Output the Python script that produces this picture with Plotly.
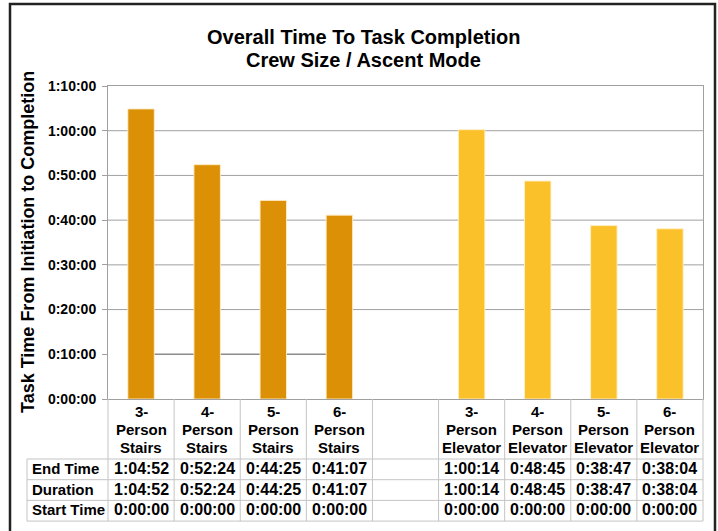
import plotly.graph_objects as go

# ---------------- data ----------------
stairs_categories = ["3-Person Stairs", "4-Person Stairs", "5-Person Stairs", "6-Person Stairs"]
gap_category = " "
elevator_categories = ["3-Person Elevator", "4-Person Elevator", "5-Person Elevator", "6-Person Elevator"]
category_labels = {
    "3-Person Stairs": ["3-", "Person", "Stairs"],
    "4-Person Stairs": ["4-", "Person", "Stairs"],
    "5-Person Stairs": ["5-", "Person", "Stairs"],
    "6-Person Stairs": ["6-", "Person", "Stairs"],
    "3-Person Elevator": ["3-", "Person", "Elevator"],
    "4-Person Elevator": ["4-", "Person", "Elevator"],
    "5-Person Elevator": ["5-", "Person", "Elevator"],
    "6-Person Elevator": ["6-", "Person", "Elevator"],
}
end_time_stairs = ["1:04:52", "0:52:24", "0:44:25", "0:41:07"]
duration_stairs = ["1:04:52", "0:52:24", "0:44:25", "0:41:07"]
start_time_stairs = ["0:00:00", "0:00:00", "0:00:00", "0:00:00"]
end_time_elevator = ["1:00:14", "0:48:45", "0:38:47", "0:38:04"]
duration_elevator = ["1:00:14", "0:48:45", "0:38:47", "0:38:04"]
start_time_elevator = ["0:00:00", "0:00:00", "0:00:00", "0:00:00"]
row_labels = ["End Time", "Duration", "Start Time"]
y_tick_seconds = [0, 600, 1200, 1800, 2400, 3000, 3600, 4200]
y_tick_labels = ["0:00:00", "0:10:00", "0:20:00", "0:30:00", "0:40:00", "0:50:00", "1:00:00", "1:10:00"]
title_lines = ["Overall Time To Task Completion", "Crew Size / Ascent Mode"]
y_title = "Task Time From Initiation to Completion"


def to_seconds(t):
    h, m, s = (int(p) for p in t.split(":"))
    return h * 3600 + m * 60 + s


all_categories = stairs_categories + [gap_category] + elevator_categories

# ---------------- style / geometry ----------------
W, H = 718, 531
ML, MR, MT, MB = 108, 15, 86, 132
PW, PH = W - ML - MR, H - MT - MB
FONT = "Liberation Sans, Arial, sans-serif"
STAIRS_COLOR = "#DB9006"
ELEV_COLOR = "#FBC12B"
GRID = "#A0A0A0"
TABLE_LINE = "#C4C4C4"


def py(px):  # pixel y (from top) -> paper y
    return (H - MB - px) / PH


def pxx(px):  # pixel x -> paper x
    return (px - ML) / PW


fig = go.Figure()
fig.add_trace(go.Bar(
    x=stairs_categories, y=[to_seconds(t) for t in duration_stairs],
    marker=dict(color=STAIRS_COLOR, line=dict(color="rgba(255,236,200,0.9)", width=1)),
    width=0.4, name="Duration"))
fig.add_trace(go.Bar(
    x=elevator_categories, y=[to_seconds(t) for t in duration_elevator],
    marker=dict(color=ELEV_COLOR, line=dict(color="rgba(255,240,200,0.9)", width=1)),
    width=0.4, name="Duration"))

shapes = []
# gridlines (the 0:10:00 line only spans the stairs bars in the reference)
for v in y_tick_seconds[2:-1]:
    shapes.append(dict(type="line", xref="paper", yref="y", x0=0, x1=1, y0=v, y1=v,
                       line=dict(color=GRID, width=1), layer="below"))
shapes.append(dict(type="line", xref="x", yref="y", x0=0, x1=3,
                   y0=y_tick_seconds[1], y1=y_tick_seconds[1],
                   line=dict(color="#8C8C8C", width=1.5), layer="below"))

# data table
header_bottom = 459
row_h = 20.7
table_bottom = header_bottom + row_h * len(row_labels)
n = len(all_categories)
for k in range(n + 1):
    shapes.append(dict(type="line", xref="paper", yref="paper", x0=k / n, x1=k / n,
                       y0=0, y1=py(table_bottom), line=dict(color=TABLE_LINE, width=1)))
shapes.append(dict(type="line", xref="paper", yref="paper", x0=pxx(27), x1=pxx(27),
                   y0=py(header_bottom), y1=py(table_bottom), line=dict(color=TABLE_LINE, width=1)))
for r in range(len(row_labels) + 1):
    yy = py(header_bottom + r * row_h)
    shapes.append(dict(type="line", xref="paper", yref="paper", x0=pxx(27), x1=1,
                       y0=yy, y1=yy, line=dict(color=TABLE_LINE, width=1)))
# outer chart border
shapes.append(dict(type="rect", xref="paper", yref="paper", x0=pxx(10), x1=pxx(715),
                   y0=py(545), y1=py(4), line=dict(color="#222222", width=2.5)))

annotations = []
# category header cells
for cat, lines in category_labels.items():
    for i, line in enumerate(lines):
        annotations.append(dict(text=line, xref="x", yref="paper", x=cat, y=py(411 + 18 * i),
                                xanchor="center", yanchor="middle", showarrow=False,
                                font=dict(family=FONT, size=15, color="black", weight="bold")))

rows_stairs = [end_time_stairs, duration_stairs, start_time_stairs]
rows_elev = [end_time_elevator, duration_elevator, start_time_elevator]
for r, label in enumerate(row_labels):
    yc = py(header_bottom + (r + 0.5) * row_h - 1)
    annotations.append(dict(text=label, xref="paper", yref="paper", x=pxx(30), y=yc,
                            xanchor="left", yanchor="middle", showarrow=False,
                            font=dict(family=FONT, size=15, color="black", weight="bold")))
    for cat, val in zip(stairs_categories, rows_stairs[r]):
        annotations.append(dict(text=val, xref="x", yref="paper", x=cat, y=yc,
                                xanchor="center", yanchor="middle", showarrow=False,
                                font=dict(family=FONT, size=16, color="black", weight="bold")))
    for cat, val in zip(elevator_categories, rows_elev[r]):
        annotations.append(dict(text=val, xref="x", yref="paper", x=cat, y=yc,
                                xanchor="center", yanchor="middle", showarrow=False,
                                font=dict(family=FONT, size=16, color="black", weight="bold")))

annotations.append(dict(text=y_title, xref="paper", yref="paper",
                        x=pxx(28), y=py(242), textangle=-90, showarrow=False,
                        xanchor="center", yanchor="middle",
                        font=dict(family=FONT, size=18, color="black", weight="bold")))
for i, line in enumerate(title_lines):
    annotations.append(dict(text=line, xref="paper", yref="paper",
                            x=pxx(363), y=py(37 + 23 * i), showarrow=False,
                            xanchor="center", yanchor="middle",
                            font=dict(family=FONT, size=20, color="black", weight="bold")))

fig.update_layout(
    width=W, height=H,
    margin=dict(l=ML, r=MR, t=MT, b=MB),
    paper_bgcolor="white", plot_bgcolor="white",
    showlegend=False, barmode="overlay",
    xaxis=dict(type="category", categoryorder="array", categoryarray=all_categories,
               range=[-0.5, n - 0.5], showticklabels=False,
               showline=True, linecolor=GRID, mirror=True, showgrid=False, ticks=""),
    yaxis=dict(range=[0, y_tick_seconds[-1]], tickvals=y_tick_seconds, ticktext=y_tick_labels,
               tickfont=dict(family=FONT, size=14, color="black", weight="bold"),
               showline=True, linecolor=GRID, mirror=True, showgrid=False, zeroline=False,
               ticks="outside", ticklen=5, tickcolor=GRID, ticklabelstandoff=3),
    shapes=shapes, annotations=annotations,
)

fig.write_html("out.html", config={"displayModeBar": False},
               post_script="document.body.style.margin='0';")
